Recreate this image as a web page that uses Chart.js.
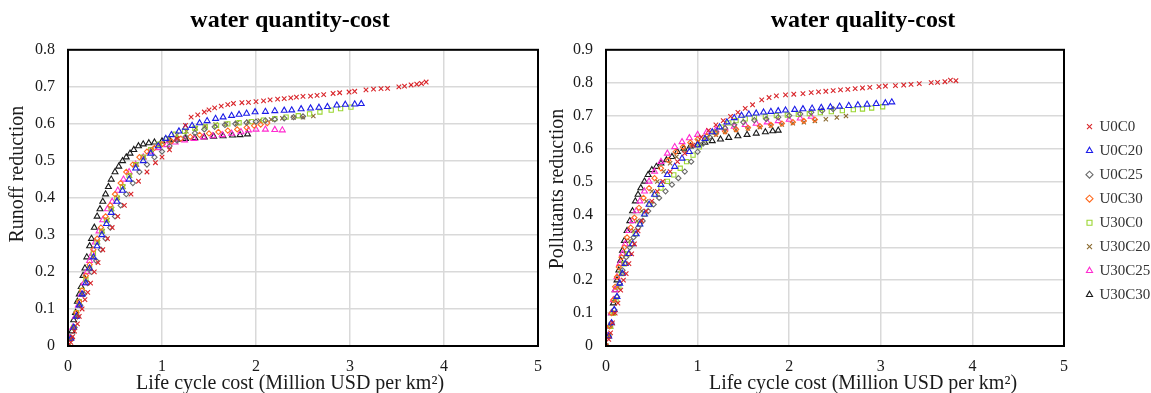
<!DOCTYPE html>
<html>
<head>
<meta charset="utf-8">
<script src="https://cdn.jsdelivr.net/npm/chart.js@4.4.1/dist/chart.umd.min.js"></script>
<style>
  body { margin: 0; background: #fff; width: 1151px; height: 393px; position: relative; overflow: hidden; }
  canvas { position: absolute; top: 0; }
  #graficoQuantidade { left: 0; }
  #graficoQualidade { left: 538px; }
</style>
</head>
<body>
<canvas id="graficoQuantidade" width="580" height="393"></canvas>
<canvas id="graficoQualidade" width="650" height="393"></canvas>
<script>
const seriesNames = ['U0C0', 'U0C20', 'U0C25', 'U0C30', 'U30C0', 'U30C20', 'U30C25', 'U30C30'];

const xTicks = [0, 1, 2, 3, 4, 5];
const yTicksQty = [0, 0.1, 0.2, 0.3, 0.4, 0.5, 0.6, 0.7, 0.8];
const yTicksQly = [0, 0.1, 0.2, 0.3, 0.4, 0.5, 0.6, 0.7, 0.8, 0.9];

// water quantity-cost: [cost, runoff reduction]
const qtyU0C0 = [[0,0],[0.03,0.01],[0.05,0.025],[0.07,0.04],[0.1,0.06],[0.12,0.08],[0.15,0.1],[0.18,0.125],[0.21,0.145],[0.24,0.17],[0.28,0.2],[0.32,0.225],[0.37,0.26],[0.42,0.29],[0.47,0.32],[0.53,0.35],[0.6,0.38],[0.67,0.41],[0.75,0.445],[0.84,0.47],[0.93,0.495],[1.0,0.51],[1.08,0.53],[1.16,0.56],[1.25,0.596],[1.31,0.618],[1.38,0.624],[1.45,0.632],[1.5,0.638],[1.56,0.643],[1.63,0.648],[1.7,0.652],[1.76,0.655],[1.85,0.657],[1.92,0.658],[2.0,0.66],[2.08,0.662],[2.15,0.665],[2.23,0.667],[2.3,0.668],[2.37,0.67],[2.43,0.672],[2.5,0.674],[2.58,0.675],[2.65,0.677],[2.72,0.679],[2.82,0.682],[2.89,0.684],[2.99,0.686],[3.05,0.688],[3.17,0.692],[3.25,0.694],[3.33,0.695],[3.4,0.696],[3.52,0.7],[3.58,0.702],[3.65,0.705],[3.71,0.707],[3.76,0.709],[3.81,0.713]];
const qtyU0C20 = [[0,0],[0.03,0.02],[0.06,0.05],[0.09,0.08],[0.12,0.11],[0.15,0.14],[0.19,0.17],[0.23,0.21],[0.27,0.24],[0.31,0.27],[0.36,0.3],[0.41,0.33],[0.46,0.36],[0.52,0.39],[0.58,0.42],[0.65,0.45],[0.72,0.48],[0.8,0.5],[0.88,0.52],[0.96,0.54],[1.04,0.56],[1.1,0.57],[1.18,0.58],[1.25,0.59],[1.32,0.595],[1.4,0.602],[1.48,0.608],[1.57,0.614],[1.65,0.618],[1.74,0.622],[1.82,0.625],[1.9,0.628],[1.99,0.632],[2.1,0.633],[2.2,0.635],[2.3,0.636],[2.38,0.637],[2.48,0.64],[2.58,0.642],[2.67,0.644],[2.76,0.646],[2.86,0.65],[2.95,0.652],[3.05,0.653],[3.12,0.654]];
const qtyU0C25 = [[0,0],[0.04,0.02],[0.07,0.05],[0.1,0.08],[0.13,0.11],[0.17,0.14],[0.21,0.17],[0.25,0.2],[0.3,0.23],[0.35,0.26],[0.4,0.29],[0.45,0.32],[0.5,0.35],[0.56,0.38],[0.62,0.41],[0.69,0.44],[0.76,0.47],[0.84,0.49],[0.92,0.51],[1.0,0.525],[1.08,0.54],[1.16,0.555],[1.25,0.565],[1.35,0.575],[1.45,0.585],[1.56,0.592],[1.67,0.597],[1.78,0.6],[1.9,0.603],[2.0,0.606],[2.1,0.609],[2.2,0.612],[2.3,0.615],[2.4,0.618],[2.5,0.62]];
const qtyU0C30 = [[0,0],[0.03,0.02],[0.06,0.05],[0.09,0.09],[0.12,0.12],[0.15,0.15],[0.19,0.19],[0.23,0.22],[0.27,0.26],[0.31,0.29],[0.35,0.32],[0.4,0.35],[0.45,0.38],[0.5,0.41],[0.56,0.44],[0.62,0.47],[0.69,0.49],[0.76,0.51],[0.84,0.525],[0.92,0.535],[1.0,0.545],[1.1,0.553],[1.2,0.56],[1.3,0.565],[1.4,0.57],[1.5,0.574],[1.6,0.578],[1.7,0.582],[1.8,0.585],[1.9,0.59],[1.98,0.595],[2.05,0.598],[2.12,0.602]];
const qtyU30C0 = [[0,0],[0.03,0.02],[0.06,0.05],[0.09,0.09],[0.12,0.12],[0.15,0.15],[0.19,0.18],[0.23,0.21],[0.27,0.25],[0.31,0.28],[0.36,0.31],[0.41,0.34],[0.46,0.37],[0.52,0.4],[0.58,0.43],[0.65,0.46],[0.72,0.49],[0.8,0.51],[0.88,0.53],[0.97,0.545],[1.05,0.56],[1.14,0.572],[1.24,0.58],[1.35,0.588],[1.46,0.592],[1.58,0.596],[1.7,0.6],[1.82,0.603],[1.95,0.606],[2.08,0.61],[2.2,0.614],[2.32,0.618],[2.45,0.622],[2.57,0.627],[2.68,0.632],[2.8,0.637],[2.9,0.641],[3.01,0.645]];
const qtyU30C20 = [[0,0],[0.03,0.02],[0.06,0.05],[0.09,0.08],[0.12,0.11],[0.15,0.14],[0.19,0.18],[0.23,0.21],[0.27,0.24],[0.32,0.28],[0.37,0.31],[0.42,0.34],[0.47,0.37],[0.53,0.4],[0.59,0.43],[0.66,0.46],[0.73,0.49],[0.81,0.51],[0.89,0.53],[0.98,0.545],[1.07,0.56],[1.16,0.57],[1.26,0.58],[1.36,0.588],[1.46,0.594],[1.57,0.598],[1.68,0.6],[1.8,0.603],[1.92,0.606],[2.04,0.609],[2.16,0.612],[2.28,0.615],[2.4,0.617],[2.5,0.618],[2.61,0.621]];
const qtyU30C25 = [[0,0],[0.02,0.02],[0.05,0.05],[0.08,0.08],[0.11,0.11],[0.14,0.14],[0.17,0.17],[0.2,0.2],[0.23,0.23],[0.26,0.25],[0.29,0.28],[0.33,0.31],[0.37,0.34],[0.42,0.37],[0.47,0.39],[0.53,0.42],[0.59,0.45],[0.65,0.47],[0.72,0.49],[0.8,0.51],[0.88,0.525],[0.96,0.535],[1.05,0.543],[1.14,0.55],[1.24,0.556],[1.34,0.56],[1.44,0.564],[1.54,0.567],[1.64,0.57],[1.74,0.574],[1.84,0.578],[1.92,0.583],[2.0,0.585],[2.1,0.585],[2.2,0.584],[2.28,0.583]];
const qtyU30C30 = [[0,0],[0.02,0.02],[0.04,0.04],[0.06,0.07],[0.08,0.09],[0.1,0.12],[0.12,0.14],[0.14,0.16],[0.16,0.19],[0.18,0.21],[0.2,0.24],[0.23,0.27],[0.25,0.29],[0.28,0.32],[0.31,0.35],[0.34,0.37],[0.37,0.39],[0.4,0.41],[0.43,0.43],[0.46,0.45],[0.5,0.47],[0.54,0.485],[0.58,0.5],[0.62,0.51],[0.66,0.52],[0.7,0.53],[0.75,0.54],[0.8,0.545],[0.86,0.548],[0.92,0.55],[1.0,0.553],[1.08,0.556],[1.16,0.558],[1.25,0.56],[1.35,0.562],[1.45,0.564],[1.55,0.566],[1.65,0.567],[1.75,0.569],[1.83,0.57],[1.91,0.572]];

// water quality-cost: [cost, pollutants reduction]
const qlyU0C0 = [[0,0],[0.03,0.02],[0.05,0.04],[0.07,0.07],[0.1,0.1],[0.13,0.13],[0.16,0.17],[0.19,0.2],[0.22,0.22],[0.25,0.25],[0.28,0.28],[0.31,0.31],[0.35,0.35],[0.39,0.38],[0.44,0.41],[0.5,0.44],[0.56,0.47],[0.62,0.5],[0.7,0.53],[0.78,0.56],[0.86,0.585],[0.95,0.61],[1.04,0.635],[1.12,0.655],[1.2,0.672],[1.28,0.685],[1.36,0.698],[1.44,0.71],[1.52,0.722],[1.6,0.733],[1.7,0.748],[1.78,0.755],[1.86,0.76],[1.96,0.763],[2.05,0.765],[2.15,0.767],[2.24,0.77],[2.32,0.772],[2.4,0.774],[2.48,0.776],[2.56,0.778],[2.64,0.78],[2.72,0.782],[2.8,0.784],[2.88,0.786],[2.98,0.788],[3.05,0.79],[3.16,0.791],[3.25,0.793],[3.33,0.795],[3.42,0.797],[3.55,0.8],[3.62,0.801],[3.7,0.803],[3.76,0.808],[3.82,0.806]];
const qlyU0C20 = [[0,0],[0.03,0.03],[0.06,0.07],[0.09,0.11],[0.12,0.15],[0.15,0.19],[0.18,0.22],[0.21,0.25],[0.25,0.28],[0.29,0.31],[0.33,0.34],[0.37,0.37],[0.42,0.4],[0.47,0.43],[0.53,0.46],[0.6,0.49],[0.67,0.52],[0.75,0.545],[0.83,0.57],[0.91,0.59],[1.0,0.61],[1.08,0.63],[1.16,0.65],[1.24,0.665],[1.32,0.68],[1.4,0.693],[1.48,0.7],[1.56,0.704],[1.64,0.707],[1.72,0.71],[1.8,0.712],[1.88,0.714],[1.96,0.716],[2.06,0.718],[2.15,0.72],[2.25,0.722],[2.35,0.724],[2.45,0.726],[2.55,0.728],[2.65,0.73],[2.75,0.732],[2.85,0.734],[2.95,0.736],[3.05,0.738],[3.12,0.741]];
const qlyU0C25 = [[0,0],[0.03,0.03],[0.06,0.07],[0.09,0.11],[0.12,0.15],[0.15,0.19],[0.18,0.23],[0.22,0.27],[0.26,0.3],[0.3,0.33],[0.35,0.36],[0.4,0.38],[0.46,0.41],[0.52,0.43],[0.58,0.45],[0.65,0.47],[0.72,0.49],[0.79,0.51],[0.86,0.53],[0.93,0.56],[1.0,0.59],[1.06,0.615],[1.13,0.635],[1.2,0.65],[1.3,0.662],[1.4,0.672],[1.5,0.68],[1.62,0.686],[1.75,0.69],[1.88,0.695],[2.0,0.7],[2.12,0.705],[2.24,0.71],[2.36,0.715],[2.48,0.72]];
const qlyU0C30 = [[0,0],[0.02,0.03],[0.04,0.06],[0.06,0.1],[0.08,0.14],[0.1,0.18],[0.12,0.21],[0.14,0.24],[0.17,0.27],[0.2,0.3],[0.23,0.33],[0.27,0.36],[0.31,0.39],[0.36,0.42],[0.41,0.45],[0.47,0.48],[0.53,0.51],[0.6,0.54],[0.68,0.565],[0.76,0.59],[0.84,0.605],[0.92,0.618],[1.0,0.628],[1.1,0.638],[1.2,0.645],[1.3,0.652],[1.42,0.658],[1.55,0.663],[1.68,0.668],[1.8,0.672],[1.92,0.676],[2.04,0.68],[2.16,0.684],[2.28,0.688]];
const qlyU30C0 = [[0,0],[0.03,0.03],[0.05,0.06],[0.08,0.1],[0.11,0.14],[0.14,0.18],[0.17,0.22],[0.2,0.25],[0.24,0.28],[0.28,0.31],[0.32,0.34],[0.37,0.37],[0.42,0.4],[0.48,0.43],[0.54,0.46],[0.6,0.48],[0.67,0.5],[0.74,0.52],[0.81,0.54],[0.88,0.56],[0.95,0.58],[1.02,0.605],[1.1,0.63],[1.18,0.65],[1.26,0.665],[1.34,0.678],[1.42,0.685],[1.52,0.69],[1.62,0.694],[1.74,0.697],[1.86,0.7],[1.98,0.702],[2.1,0.704],[2.22,0.706],[2.34,0.709],[2.46,0.712],[2.58,0.715],[2.7,0.718],[2.8,0.72],[2.9,0.723],[3.02,0.727]];
const qlyU30C20 = [[0,0],[0.03,0.03],[0.05,0.06],[0.08,0.1],[0.1,0.14],[0.13,0.18],[0.16,0.22],[0.19,0.25],[0.22,0.28],[0.26,0.32],[0.3,0.35],[0.34,0.38],[0.39,0.41],[0.44,0.44],[0.5,0.47],[0.56,0.5],[0.63,0.53],[0.7,0.555],[0.77,0.575],[0.85,0.595],[0.93,0.61],[1.01,0.622],[1.1,0.633],[1.2,0.642],[1.3,0.65],[1.42,0.656],[1.55,0.661],[1.68,0.665],[1.8,0.669],[1.92,0.673],[2.04,0.677],[2.16,0.68],[2.28,0.684],[2.4,0.689],[2.52,0.694],[2.62,0.699]];
const qlyU30C25 = [[0,0],[0.02,0.03],[0.04,0.06],[0.06,0.1],[0.08,0.14],[0.1,0.17],[0.12,0.21],[0.15,0.25],[0.18,0.28],[0.21,0.31],[0.25,0.35],[0.29,0.38],[0.33,0.41],[0.37,0.44],[0.42,0.47],[0.47,0.5],[0.53,0.53],[0.6,0.56],[0.67,0.585],[0.75,0.605],[0.83,0.62],[0.91,0.632],[1.0,0.642],[1.1,0.65],[1.2,0.656],[1.3,0.662],[1.4,0.667],[1.52,0.672],[1.64,0.676],[1.76,0.68],[1.88,0.684],[2.0,0.688],[2.12,0.692],[2.24,0.697]];
const qlyU30C30 = [[0,0],[0.02,0.03],[0.04,0.06],[0.06,0.1],[0.08,0.13],[0.1,0.17],[0.12,0.2],[0.14,0.23],[0.16,0.26],[0.18,0.29],[0.2,0.32],[0.23,0.35],[0.26,0.38],[0.29,0.41],[0.32,0.44],[0.35,0.46],[0.38,0.48],[0.42,0.5],[0.46,0.52],[0.5,0.535],[0.55,0.545],[0.6,0.555],[0.66,0.565],[0.72,0.575],[0.78,0.59],[0.85,0.6],[0.92,0.607],[1.0,0.612],[1.08,0.618],[1.16,0.623],[1.25,0.628],[1.34,0.633],[1.44,0.638],[1.54,0.642],[1.64,0.646],[1.74,0.65],[1.82,0.653],[1.88,0.655]];

const quantitySeries = [qtyU0C0, qtyU0C20, qtyU0C25, qtyU0C30, qtyU30C0, qtyU30C20, qtyU30C25, qtyU30C30];
const qualitySeries = [qlyU0C0, qlyU0C20, qlyU0C25, qlyU0C30, qlyU30C0, qlyU30C20, qlyU30C25, qlyU30C30];

const cores = ['#d9262b', '#1c1ce8', '#6b6b6b', '#ff6a1f', '#9bd632', '#8a6a30', '#ff2bd0', '#1a1a1a'];
const marcadores = ['crossRot', 'triangle', 'rectRot', 'rectRot', 'rect', 'crossRot', 'triangle', 'triangle'];
const raios = [3.2, 3.4, 2.6, 2.6, 3, 3, 3.4, 3.4];

const fonte = "'Liberation Serif', 'Times New Roman', serif";
const tituloX = 'Life cycle cost (Million USD per km²)';

// moldura preta em volta da area do grafico
const moldura = {
  id: 'moldura',
  afterDatasetsDraw(chart) {
    const a = chart.chartArea;
    const ctx = chart.ctx;
    ctx.save();
    ctx.strokeStyle = '#000';
    ctx.lineWidth = 2;
    ctx.strokeRect(a.left, a.top, a.right - a.left, a.bottom - a.top);
    ctx.restore();
  }
};

// titulo do eixo Y, um pouco acima do centro como no original
const tituloEixoY = {
  id: 'tituloEixoY',
  afterDraw(chart, args, opts) {
    const a = chart.chartArea;
    const ctx = chart.ctx;
    ctx.save();
    ctx.translate(opts.x, a.top + (a.bottom - a.top) * opts.posicao);
    ctx.rotate(-Math.PI / 2);
    ctx.font = '20px ' + fonte;
    ctx.fillStyle = '#1a1a1a';
    ctx.textAlign = 'center';
    ctx.textBaseline = 'middle';
    ctx.fillText(opts.texto, 0, 0);
    ctx.restore();
  }
};

function montarDatasets(lista) {
  return lista.map((pontos, i) => ({
    label: seriesNames[i],
    data: pontos.map(p => ({ x: p[0], y: p[1] })),
    pointStyle: marcadores[i],
    pointRadius: raios[i],
    pointBorderWidth: 1.1,
    borderColor: cores[i],
    backgroundColor: 'rgba(0,0,0,0)',
    showLine: false
  }));
}

function folga(largura, peso) {
  return {
    type: 'linear',
    position: 'right',
    weight: peso,
    afterFit: s => { s.width = largura; },
    ticks: { display: false },
    grid: { display: false },
    border: { display: false }
  };
}

function criarGrafico(id, lista, titulo, eixoY, yTicks, comLegenda, posTituloY) {
  const escalas = {
    x: {
      type: 'linear',
      min: xTicks[0],
      max: xTicks[xTicks.length - 1],
      afterBuildTicks: s => { s.ticks = xTicks.map(v => ({ value: v })); },
      afterFit: s => { s.height = 26; },
      ticks: { color: '#1a1a1a', font: { family: fonte, size: 16 }, padding: 11 },
      grid: { color: '#d9d9d9', lineWidth: 1.5, drawTicks: false },
      border: { display: false }
    },
    y: {
      type: 'linear',
      min: yTicks[0],
      max: yTicks[yTicks.length - 1],
      afterBuildTicks: s => { s.ticks = yTicks.map(v => ({ value: v })); },
      afterFit: s => { s.width = 68; },
      ticks: { color: '#1a1a1a', font: { family: fonte, size: 16 }, padding: 13 },
      grid: { color: '#d9d9d9', lineWidth: 1.5, drawTicks: false },
      border: { display: false }
    }
  };
  if (comLegenda) {
    escalas.folgaLegenda = folga(14, 0);
    escalas.folgaBorda = folga(35, 2000);
  } else {
    escalas.folgaBorda = folga(42, 0);
  }

  const ctx = document.getElementById(id).getContext('2d');
  return new Chart(ctx, {
    type: 'scatter',
    data: { datasets: montarDatasets(lista) },
    options: {
      responsive: false,
      animation: false,
      layout: { padding: 0 },
      plugins: {
        title: {
          display: true,
          text: titulo,
          color: '#000',
          font: { family: fonte, size: 24, weight: 'bold' },
          padding: { top: 6, bottom: 15 }
        },
        subtitle: {
          display: true,
          position: 'bottom',
          text: tituloX,
          color: '#1a1a1a',
          font: { family: fonte, size: 20 },
          padding: { top: 0, bottom: -3 }
        },
        tituloEixoY: { texto: eixoY, x: comLegenda ? 19.5 : 18, posicao: posTituloY },
        legend: {
          display: comLegenda,
          position: 'right',
          maxWidth: 75,
          title: { display: true, text: '', font: { size: 12 }, padding: { top: 0, bottom: 14 } },
          labels: {
            usePointStyle: true,
            boxWidth: 5,
            boxHeight: 5,
            padding: 9,
            color: '#333',
            font: { family: fonte, size: 15 }
          }
        },
        tooltip: { enabled: false }
      },
      scales: escalas
    },
    plugins: [moldura, tituloEixoY]
  });
}

criarGrafico('graficoQuantidade', quantitySeries, 'water quantity-cost', 'Runoff reduction', yTicksQty, false, 0.42);
criarGrafico('graficoQualidade', qualitySeries, 'water quality-cost', 'Pollutants reduction', yTicksQly, true, 0.47);
</script>
</body>
</html>
